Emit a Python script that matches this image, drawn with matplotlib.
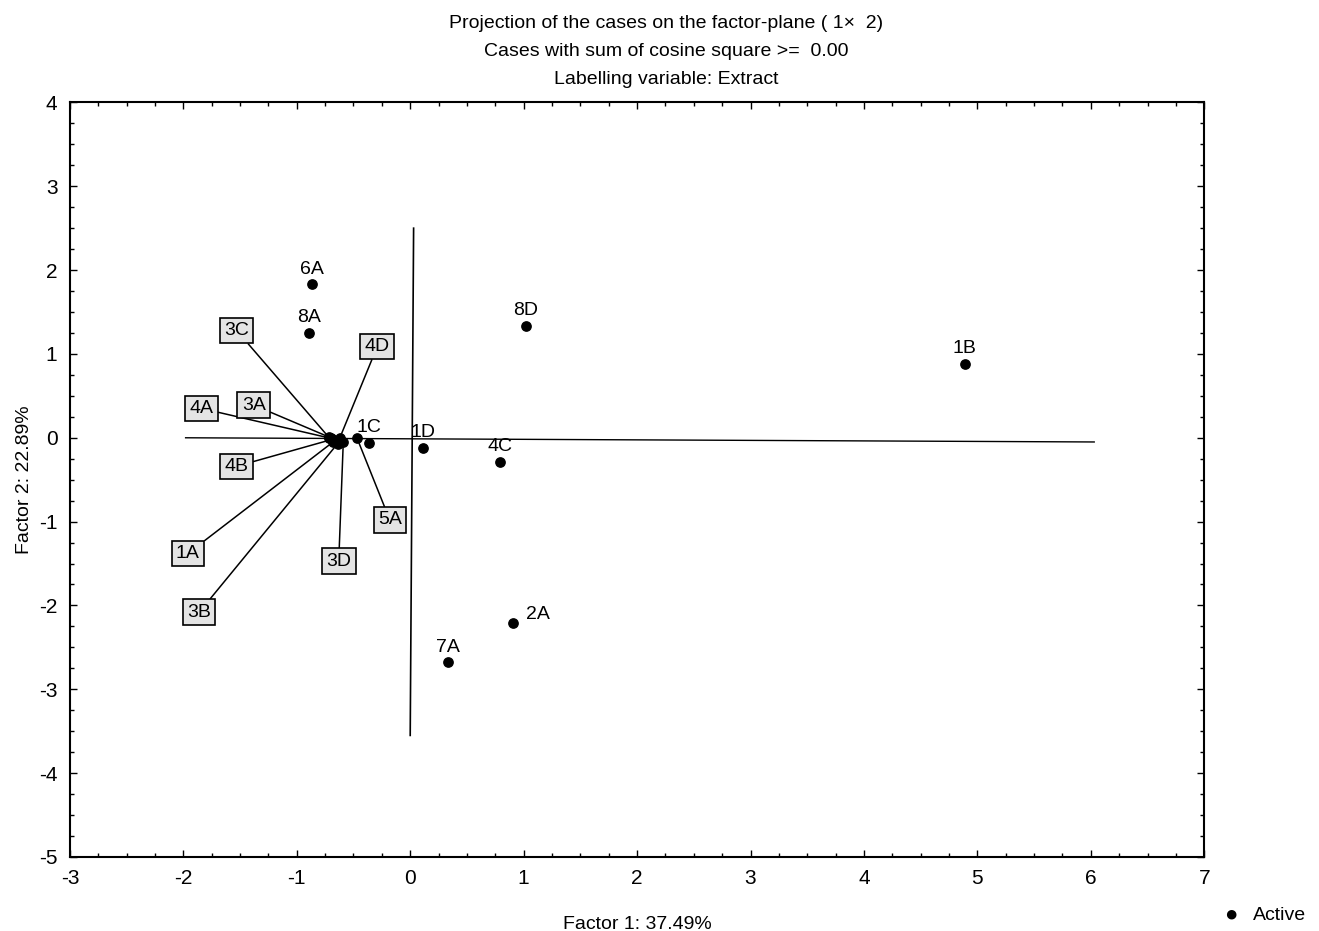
import matplotlib
matplotlib.use("Agg")
import matplotlib.pyplot as plt
from matplotlib.ticker import MultipleLocator

plt.rcParams['font.family'] = ['Liberation Sans', 'DejaVu Sans']
plt.rcParams['axes.unicode_minus'] = False

# cases with plain labels
names = ['6A', '8A', '8D', '1B', '1C', '1D', '4C', '2A', '7A']
f1 = [-0.87, -0.89, 1.02, 4.89, -0.36, 0.11, 0.79, 0.91, 0.33]
f2 = [1.83, 1.25, 1.33, 0.88, -0.06, -0.12, -0.29, -2.21, -2.68]
# label offsets in points (dx, dy)
lab_dx = [0, 0, 0, 0, 0, 0, 0, 18, 0]
lab_dy = [11, 11, 11, 11, 11, 11, 11, 6, 11]

# crowded cases near the origin, labelled with boxes + leader lines
box_names = ['3C', '4D', '4A', '3A', '4B', '1A', '3B', '3D', '5A']
box_f1 = [-0.72, -0.62, -0.72, -0.70, -0.69, -0.68, -0.64, -0.59, -0.47]
box_f2 = [0.01, 0.00, 0.00, 0.00, -0.02, -0.05, -0.07, -0.05, 0.00]
box_lx = [-1.53, -0.29, -1.84, -1.38, -1.53, -1.96, -1.86, -0.63, -0.18]
box_ly = [1.28, 1.09, 0.35, 0.39, -0.34, -1.38, -2.08, -1.47, -0.98]

fig = plt.figure(figsize=(13.19, 9.31), dpi=100)
ax = fig.add_axes([0.053, 0.0795, 0.860, 0.8105])

# reference axes through the origin
ax.plot([-1.98, 6.03], [0.0, -0.05], color='black', lw=1)
ax.plot([0.03, 0.0], [2.5, -3.55], color='black', lw=1.2)

ax.scatter(f1 + box_f1, f2 + box_f2, s=45, color='black', zorder=3)

for n, x, y, dx, dy in zip(names, f1, f2, lab_dx, lab_dy):
    ax.annotate(n, (x, y), xytext=(dx, dy), textcoords='offset points',
                ha='center', va='center', fontsize=14)

for n, x, y, lx, ly in zip(box_names, box_f1, box_f2, box_lx, box_ly):
    ax.annotate(n, (x, y), xytext=(lx, ly), textcoords='data',
                ha='center', va='center', fontsize=14,
                bbox=dict(boxstyle='square,pad=0.22', fc='#e4e4e4', ec='black', lw=1.2),
                arrowprops=dict(arrowstyle='-', color='black', lw=1.1,
                                shrinkA=0, shrinkB=0))

ax.set_xlim(-3, 7)
ax.set_ylim(-5, 4)
ax.xaxis.set_major_locator(MultipleLocator(1))
ax.yaxis.set_major_locator(MultipleLocator(1))
ax.xaxis.set_minor_locator(MultipleLocator(0.25))
ax.yaxis.set_minor_locator(MultipleLocator(0.25))
ax.tick_params(which='both', direction='in', top=True, right=True,
               labeltop=False, labelright=False, labelsize=15)
ax.tick_params(which='major', length=5, width=1, pad=9)
ax.tick_params(which='minor', length=3, width=1)
for s in ax.spines.values():
    s.set_linewidth(1.5)

ax.set_xlabel('Factor 1: 37.49%', fontsize=14, labelpad=20)
ax.set_ylabel('Factor 2: 22.89%', fontsize=14, labelpad=4)

fig.text(0.505, 0.975, 'Projection of the cases on the factor-plane ( 1\u00d7  2)',
         ha='center', va='center', fontsize=14)
fig.text(0.505, 0.945, 'Cases with sum of cosine square >=  0.00',
         ha='center', va='center', fontsize=14)
fig.text(0.505, 0.915, 'Labelling variable: Extract',
         ha='center', va='center', fontsize=14)

# legend marker bottom right
fig.text(0.933, 0.017, '\u25cf', ha='center', va='center', fontsize=16)
fig.text(0.950, 0.017, 'Active', ha='left', va='center', fontsize=14)

fig.savefig('out.png', dpi=100)
